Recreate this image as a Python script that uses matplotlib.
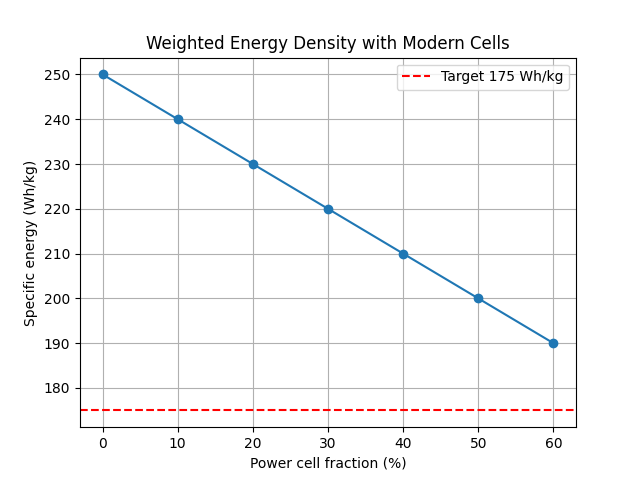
import numpy as np
import matplotlib
matplotlib.use("Agg")
import matplotlib.pyplot as plt

power_fraction = [0, 10, 20, 30, 40, 50, 60]
specific_energy = [250, 240, 230, 220, 210, 200, 190]
target = 175


def plot_energy():
    fig, ax = plt.subplots(figsize=(6.4, 4.8), dpi=100)
    ax.plot(power_fraction, specific_energy, "o-")
    ax.axhline(target, color="r", linestyle="--", label="Target 175 Wh/kg")
    ax.set_xlabel("Power cell fraction (%)")
    ax.set_ylabel("Specific energy (Wh/kg)")
    ax.set_title("Weighted Energy Density with Modern Cells")
    ax.grid(True)
    ax.legend()
    plt.savefig("out.png", dpi=100)


if __name__ == "__main__":
    plot_energy()
